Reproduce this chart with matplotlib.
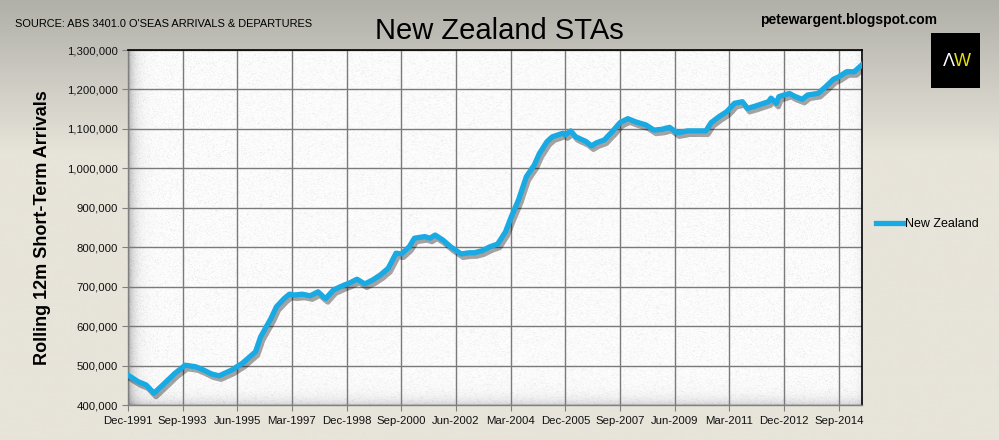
import numpy as np
import pandas as pd
import matplotlib
matplotlib.use('Agg')
import matplotlib.pyplot as plt
import matplotlib.patheffects as pe
import matplotlib.ticker as mticker
from matplotlib.lines import Line2D

plt.rcParams['font.family'] = ['Liberation Sans', 'DejaVu Sans']

# rolling 12m short-term arrivals from New Zealand (thousands)
months = ['1991-12', '1992-04', '1992-07', '1992-10', '1993-02', '1993-06', '1993-10',
          '1994-02', '1994-05', '1994-08', '1994-11', '1995-04', '1995-08', '1996-01',
          '1996-03', '1996-07', '1996-09', '1996-12', '1997-02', '1997-04', '1997-07',
          '1997-10', '1998-01', '1998-03', '1998-04', '1998-07', '1998-11', '1999-01',
          '1999-04', '1999-07', '1999-10', '2000-01', '2000-04', '2000-07', '2000-09',
          '2000-12', '2001-02', '2001-06', '2001-08', '2001-10', '2002-01', '2002-04',
          '2002-08', '2002-11', '2003-01', '2003-04', '2003-07', '2003-10', '2004-01',
          '2004-03', '2004-06', '2004-09', '2004-12', '2005-02', '2005-05', '2005-07',
          '2005-11', '2005-12', '2006-02', '2006-04', '2006-08', '2006-10', '2006-12',
          '2007-03', '2007-06', '2007-09', '2007-12', '2008-03', '2008-07', '2008-10',
          '2009-01', '2009-04', '2009-07', '2009-11', '2010-02', '2010-06', '2010-08',
          '2010-11', '2011-02', '2011-05', '2011-08', '2011-10', '2012-01', '2012-06',
          '2012-07', '2012-09', '2012-10', '2013-02', '2013-04', '2013-07', '2013-09',
          '2014-01', '2014-04', '2014-07', '2014-09', '2014-12', '2015-03', '2015-06']
nz_arrivals = [476, 459, 451, 430, 455, 480, 501,
               497, 489, 479, 474, 489, 506, 535,
               573, 620, 649, 670, 681, 679, 681,
               677, 687, 675, 670, 692, 704, 709,
               719, 707, 717, 730, 747, 785, 783,
               801, 823, 827, 823, 831, 818, 801,
               783, 786, 786, 791, 801, 808, 839,
               873, 920, 979, 1008, 1038, 1068, 1080,
               1089, 1085, 1095, 1080, 1068, 1057, 1065,
               1072, 1093, 1116, 1126, 1118, 1110, 1097,
               1099, 1104, 1090, 1095, 1095, 1095, 1116,
               1131, 1144, 1165, 1169, 1152, 1158, 1169,
               1178, 1165, 1182, 1190, 1183, 1175, 1186,
               1190, 1207, 1226, 1232, 1245, 1245, 1263]

dates = pd.to_datetime(months, format='%Y-%m')
values = np.array(nz_arrivals) * 1000
line_color = '#19a9e3'

fig = plt.figure(figsize=(9.99, 4.4), dpi=100)

# background gradient (grey top -> beige bottom)
bg = fig.add_axes([0, 0, 1, 1], zorder=-10)
bg.axis('off')
top = np.array([176, 175, 168]) / 255
low = np.array([231, 228, 218]) / 255
t = np.clip(np.linspace(0, 1, 440) / 0.35, 0, 1)[:, None]
grad = top + (low - top) * t
grad = np.repeat(grad[:, None, :], 2, axis=1)
bg.imshow(grad, aspect='auto', extent=[0, 1, 0, 1])
bg.set_xlim(0, 1)
bg.set_ylim(0, 1)

ax = fig.add_axes([0.128, 0.0795, 0.735, 0.8068])

# speckled plot-area texture with inner shadow on left/bottom
rs = np.random.RandomState(7)
h, w = 355, 734
tex = 0.97 + 0.03 * rs.rand(h, w) - 0.04 * (rs.rand(h, w) > 0.88)
xs = np.arange(w)[None, :]
ys = np.arange(h)[::-1][:, None]
tex = tex - 0.28 * np.exp(-xs / 6.0) - 0.15 * np.exp(-ys / 6.0) - 0.06 * np.exp(-(w - 1 - xs) / 4.0)
ax.imshow(tex, cmap='gray', vmin=0, vmax=1, aspect='auto',
          extent=[0, 1, 0, 1], transform=ax.transAxes, zorder=0, interpolation='bilinear')

ax.plot(dates, values, color=line_color, lw=3.8, solid_joinstyle='round', zorder=3,
        path_effects=[pe.SimpleLineShadow(offset=(1.5, -2.5), shadow_color='k', alpha=0.35),
                      pe.Normal()])

ax.set_ylim(400000, 1300000)
ax.set_yticks(np.arange(400000, 1300001, 100000))
ax.yaxis.set_major_formatter(mticker.FuncFormatter(lambda v, p: f'{int(v):,}'))

xticks = pd.date_range('1991-12-01', periods=14, freq='21MS')
ax.set_xticks(xticks)
ax.set_xticklabels([d.strftime('%b-%Y') for d in xticks])
ax.set_xlim(pd.Timestamp('1991-12-01'), pd.Timestamp('2015-06-01'))

ax.grid(True, color='#7a7a7a', lw=1.0)
for g in ax.get_xgridlines() + ax.get_ygridlines():
    g.set_zorder(1)

ax.tick_params(axis='both', direction='out', length=4, color='#808080',
               labelsize=8.2, labelcolor='#111111')
ax.tick_params(axis='x', pad=4)
ax.tick_params(axis='y', pad=3)
for s in ['top', 'right']:
    ax.spines[s].set_color('black')
    ax.spines[s].set_linewidth(1.2)
for s in ['left', 'bottom']:
    ax.spines[s].set_color('#808080')
    ax.spines[s].set_linewidth(1.0)

ax.set_ylabel('Rolling 12m Short-Term Arrivals', fontsize=13, fontweight='bold', labelpad=12)

fig.text(0.5, 0.93, 'New Zealand STAs', ha='center', va='center', fontsize=21)
fig.text(0.015, 0.945, "SOURCE: ABS 3401.0 O'SEAS ARRIVALS & DEPARTURES", ha='left',
         va='center', fontsize=7.9)
fig.text(0.849, 0.955, 'petewargent.blogspot.com', ha='center', va='center',
         fontsize=10, fontweight='bold')

# AW logo
logo = fig.add_axes([0.932, 0.80, 0.049, 0.124])
logo.set_facecolor('black')
logo.set_xticks([])
logo.set_yticks([])
for s in logo.spines.values():
    s.set_visible(False)
logo.text(0.36, 0.48, '\u039b', color='white', fontsize=13, ha='center', va='center')
logo.text(0.64, 0.48, 'W', color='#e6e010', fontsize=13, ha='center', va='center')

handle = Line2D([], [], color=line_color, lw=3.8)
fig.legend(handles=[handle], labels=['New Zealand'], loc='center left',
           bbox_to_anchor=(0.866, 0.49), frameon=False, fontsize=9,
           handlelength=2.2, handletextpad=0.1)

fig.savefig('out.png', dpi=100)
